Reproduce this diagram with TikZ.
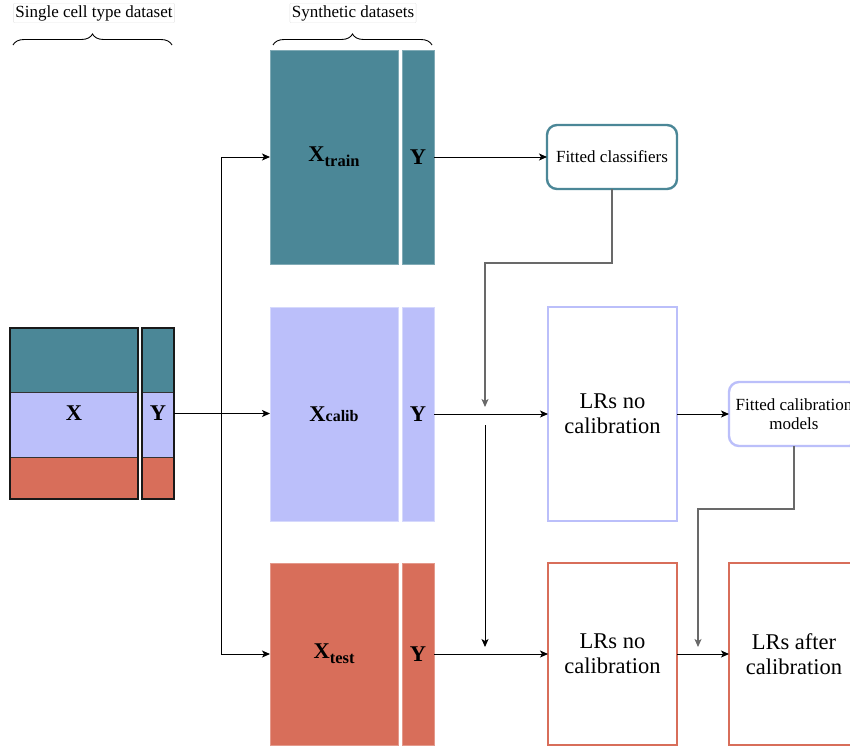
\documentclass[tikz,border=0pt]{standalone}
\usepackage{fontspec}
\setmainfont{Liberation Serif}
\usetikzlibrary{arrows.meta,decorations.pathreplacing}
\definecolor{teal1}{RGB}{75,135,151}
\definecolor{lav}{RGB}{187,191,250}
\definecolor{coral}{RGB}{216,110,90}
\definecolor{conn}{RGB}{105,105,105}
\begin{document}
\begin{tikzpicture}[x=1pt,y=-1pt,
  blk/.style={anchor=north west, inner sep=0pt, outer sep=0pt, font=\fontsize{22.5}{26}\selectfont\bfseries},
  syn/.style={blk, line width=0.8pt},
  res/.style={anchor=north west, inner sep=2pt, outer sep=0pt, fill=white, align=center,
     font=\fontsize{22.5}{25}\selectfont},
  rbox/.style={anchor=north west, inner sep=2pt, outer sep=0pt, fill=white, align=center,
     rounded corners=10pt, line width=2.4pt, font=\fontsize{17}{19}\selectfont},
  lbl/.style={font=\fontsize{17}{20}\selectfont, inner sep=2pt, draw=black!10, rounded corners=1pt, fill=white},
  arr/.style={line width=1pt, -{Stealth[length=8pt,width=7pt,inset=2pt]}},
  garr/.style={arr, draw=conn, line width=1.2pt},
  brc/.style={decorate, decoration={brace, amplitude=11pt}, line width=0.9pt}
]
\path[use as bounding box] (0,0) rectangle (850,747);
\clip (0,0) rectangle (850,747);

% single cell type dataset
\fill[teal1] (10,328) rectangle (138,392);
\fill[lav] (10,392) rectangle (138,457);
\fill[coral] (10,457) rectangle (138,499);
\fill[teal1] (142,328) rectangle (174,392);
\fill[lav] (142,392) rectangle (174,457);
\fill[coral] (142,457) rectangle (174,499);
\draw[black!80, line width=0.8pt] (10,392) -- (138,392) (10,457) -- (138,457)
  (142,392) -- (174,392) (142,457) -- (174,457);
\node[blk, draw=black!90, line width=1.8pt, minimum width=128pt, minimum height=171pt] (xl) at (10,328) {X};
\node[blk, draw=black!90, line width=1.8pt, minimum width=32pt, minimum height=171pt] (yl) at (142,328) {Y};

% synthetic datasets
\node[syn, fill=teal1, draw=teal1!70!white, minimum width=128pt, minimum height=214pt] (xtrain) at (270,50)
  {X\raisebox{-5pt}{\fontsize{16.5}{16}\selectfont train}};
\node[syn, fill=teal1, draw=teal1!70!white, minimum width=32pt, minimum height=214pt] (ytrain) at (402,50) {Y};
\node[syn, fill=lav, draw=lav!60!white, minimum width=128pt, minimum height=214pt] (xcalib) at (270,307)
  {X{\fontsize{16}{16}\selectfont calib}};
\node[syn, fill=lav, draw=lav!60!white, minimum width=32pt, minimum height=214pt] (ycalib) at (402,307) {Y};
\node[syn, fill=coral, draw=coral!70!white, minimum width=128pt, minimum height=182pt] (xtest) at (270,563)
  {X\raisebox{-5pt}{\fontsize{16.5}{16}\selectfont test}};
\node[syn, fill=coral, draw=coral!70!white, minimum width=32pt, minimum height=182pt] (ytest) at (402,563) {Y};

% result boxes
\node[rbox, draw=teal1, minimum width=130pt, minimum height=64pt] (fc) at (547,125) {Fitted classifiers};
\node[res, draw=lav, line width=2.6pt, minimum width=129pt, minimum height=214pt] (lr1) at (548,307) {LRs no\\calibration};
\node[rbox, draw=lav, minimum width=130pt, minimum height=64pt] (fcm) at (729,382) {Fitted calibration\\models};
\node[res, draw=coral, line width=2.8pt, minimum width=129pt, minimum height=182pt] (lr2) at (548,563) {LRs no\\calibration};
\node[res, draw=coral, line width=2.8pt, minimum width=130pt, minimum height=182pt] (lr3) at (729,563) {LRs after\\calibration};

% braces and titles
\coordinate (b1a) at (13,45); \coordinate (b1b) at (172,45);
\coordinate (b2a) at (273,45); \coordinate (b2b) at (432,45);
\draw[brc] (b1a) -- (b1b);
\draw[brc] (b2a) -- (b2b);
\node[lbl] (t1) at (94,13) {Single cell type dataset};
\node[lbl] (t2) at (353,13) {Synthetic datasets};

% connectors
\coordinate (split) at (221,413.5);
\draw[arr] (yl.east) -- (yl.east -| xcalib.west);
\draw[arr] (split) |- (xtrain.west);
\draw[arr] (split) |- (xtest.west);
\draw[arr] (ytrain.east) -- (fc.west);
\coordinate (k1) at (485,263); \coordinate (t1a) at (485,407);
\draw[garr] (fc.south) |- (k1) -- (t1a);
\draw[arr] (ycalib.east) -- (lr1.west);
\coordinate (s2) at (485,425); \coordinate (t2a) at (485,647);
\draw[arr] (s2) -- (t2a);
\draw[arr] (ytest.east) -- (lr2.west);
\draw[arr] (lr1.east) -- (fcm.west);
\coordinate (k2) at (698,509); \coordinate (t3a) at (698,647);
\draw[garr] (fcm.south) |- (k2) -- (t3a);
\draw[arr] (lr2.east) -- (lr3.west);
\end{tikzpicture}
\end{document}
